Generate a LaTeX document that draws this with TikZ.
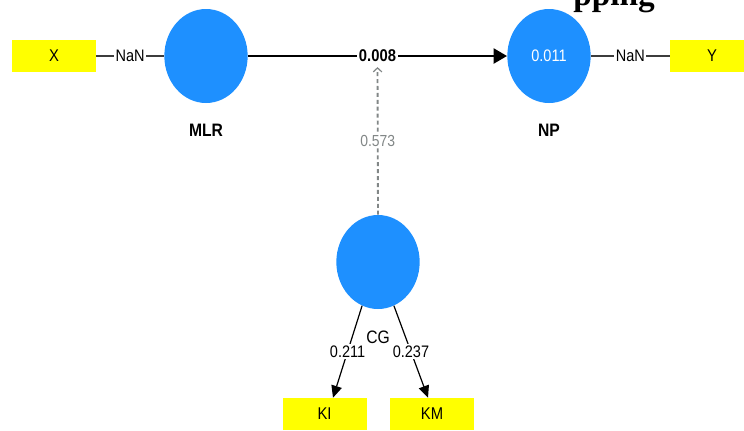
\documentclass[tikz,border=0pt]{standalone}
\usepackage{fontspec}
\setmainfont{Liberation Sans}[FakeStretch=0.87]
\newfontfamily\serifb{Liberation Serif}
\usetikzlibrary{shapes.geometric,arrows.meta,calc}
\definecolor{lvblue}{RGB}{30,144,255}
\definecolor{mvyellow}{RGB}{255,255,0}
\definecolor{dgray}{RGB}{130,135,135}
\definecolor{lgray}{RGB}{60,60,60}
\begin{document}
\begin{tikzpicture}[x=0.75pt,y=-0.75pt,
  lv/.style={ellipse,fill=lvblue,minimum width=62.5pt,minimum height=70.5pt,inner sep=0pt,
             font=\fontsize{12.5}{14}\selectfont,text=white},
  mv/.style={rectangle,fill=mvyellow,minimum width=63pt,minimum height=24pt,inner sep=0pt,
             font=\fontsize{12.75}{14}\selectfont},
  lvname/.style={font=\bfseries\fontsize{13.5}{15}\selectfont,inner sep=1pt},
  wlbl/.style={fill=white,inner sep=1.2pt,font=\fontsize{12.5}{14}\selectfont},
  nanline/.style={draw=lgray,line width=0.9pt},
  mainarrow/.style={draw=black,line width=2.2pt,-{Triangle[length=10pt,width=11pt]}},
  loadarrow/.style={draw=black,line width=0.9pt,-{Triangle[length=9pt,width=8pt]}},
  modarrow/.style={draw=dgray,line width=1.4pt,dash pattern=on 3pt off 2.2pt,
                   -{Straight Barb[length=3pt,width=6.5pt,line width=0.9pt]}}
]
\useasboundingbox (0,0) rectangle (744,430);

% title fragment
\node[anchor=base west,inner sep=0pt,font=\serifb\bfseries\fontsize{25}{30}\selectfont] (ttl) at (573,5) {pping};

% latent variables
\node[lv] (MLR) at (206,56) {};
\node[lv] (NP) at (549,56) {0.011};
\node[lv] (CG) at (378,262) {};

% names
\node[lvname] (mlrname) at (206,130) {MLR};
\node[lvname] (npname) at (549,130) {NP};
\node[font=\fontsize{13.5}{15}\selectfont,inner sep=1pt] (cgname) at (378,337) {CG};

% indicators
\node[mv] (X) at (54,56) {X};
\node[mv] (Y) at (712,56) {Y};
\node[mv] (KI) at (324.5,414) {KI};
\node[mv] (KM) at (432,414) {KM};

% NaN links
\draw[nanline] (X) -- node[wlbl] {NaN} (MLR);
\draw[nanline] (NP) -- node[wlbl] {NaN} (Y);

% structural path
\draw[mainarrow] (MLR) -- node[wlbl,font=\bfseries\fontsize{12.75}{14}\selectfont] (w) {0.008} (NP);

% moderating path
\draw[modarrow] (CG.north) -- node[wlbl,text=dgray,font=\fontsize{12}{14}\selectfont] {0.573} ($(w.south)+(0,2)$);

% loadings
\draw[loadarrow] (CG.-110) -- node[wlbl] {0.211} ($(KI.north)+(8.5,0)$);
\draw[loadarrow] (CG.-70) -- node[wlbl] {0.237} ($(KM.north)+(-4,0)$);
\end{tikzpicture}
\end{document}
